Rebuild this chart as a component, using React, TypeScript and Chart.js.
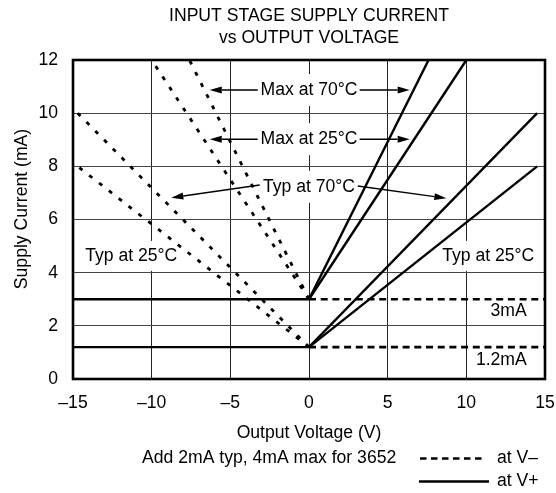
import React, { useEffect, useRef } from 'react';
import { Chart, registerables } from 'chart.js';

Chart.register(...registerables);

const FONT = '"Liberation Sans", Arial, Helvetica, sans-serif';
const FS = 17.6;

// Axes
const xTickValues = [-15, -10, -5, 0, 5, 10, 15];
const xTickLabels = ['–15', '–10', '–5', '0', '5', '10', '15'];
const yTickValues = [0, 2, 4, 6, 8, 10, 12];

// Supply current measured at V+ (solid lines)
const vPlusMax70X = [-15, 0, 7.6];
const vPlusMax70Y = [3, 3, 12];
const vPlusMax25X = [0, 10];
const vPlusMax25Y = [3, 12];
const vPlusTyp70X = [-15, 0, 14.5];
const vPlusTyp70Y = [1.2, 1.2, 10];
const vPlusTyp25X = [0, 14.5];
const vPlusTyp25Y = [1.2, 8];

// Supply current measured at V− (dashed lines)
const vMinusQuiescentMaxX = [0, 15];
const vMinusQuiescentMaxY = [3, 3];
const vMinusQuiescentTypX = [0, 15];
const vMinusQuiescentTypY = [1.2, 1.2];
const vMinusMax70X = [0, -7.6];
const vMinusMax70Y = [3, 12];
const vMinusMax25X = [0, -10];
const vMinusMax25Y = [3, 12];
const vMinusTyp70X = [0, -14.7];
const vMinusTyp70Y = [1.2, 10];
const vMinusTyp25X = [0, -14.7];
const vMinusTyp25Y = [1.2, 8];

// Annotation labels (data coordinates)
const centerLabels = ['Max at 70°C', 'Max at 25°C', 'Typ at 70°C'];
const centerLabelX = [0, 0, 0];
const centerLabelY = [10.87, 9.02, 7.23];
const sideLabels = ['Typ at 25°C', 'Typ at 25°C'];
const sideLabelX = [-11.3, 11.39];
const sideLabelY = [4.63, 4.63];
const levelLabels = ['3mA', '1.2mA'];
const levelLabelX = [13.84, 13.84];
const levelLabelY = [2.56, 0.71];

// Arrows: from -> to (data coordinates)
const arrowFromX = [-3.26, 3.22, -3.26, 3.22, -3.13, 3.1];
const arrowFromY = [10.87, 10.87, 9.02, 9.02, 7.3, 7.26];
const arrowToX = [-6.31, 6.4, -6.31, 6.4, -8.75, 8.73];
const arrowToY = [10.87, 10.87, 9.02, 9.02, 6.82, 6.8];

const pts = (xs: number[], ys: number[]) => xs.map((x, i) => ({ x, y: ys[i] }));

const solid = (label: string, xs: number[], ys: number[]) => ({
  label,
  data: pts(xs, ys),
  showLine: true,
  borderColor: '#000',
  borderWidth: 2.4,
  pointRadius: 0,
  fill: false,
  tension: 0,
});

const dashedDiag = (label: string, xs: number[], ys: number[]) => ({
  ...solid(label, xs, ys),
  borderWidth: 2.8,
  borderDash: [4, 8.5],
});

const dashedFlat = (label: string, xs: number[], ys: number[]) => ({
  ...solid(label, xs, ys),
  borderWidth: 2.6,
  borderDash: [7, 4.7],
});

function arrow(ctx: CanvasRenderingContext2D, x1: number, y1: number, x2: number, y2: number) {
  const ang = Math.atan2(y2 - y1, x2 - x1);
  const len = 12;
  const hw = 3.5;
  const bx = x2 - len * Math.cos(ang);
  const by = y2 - len * Math.sin(ang);
  ctx.beginPath();
  ctx.moveTo(x1, y1);
  ctx.lineTo(bx, by);
  ctx.lineWidth = 1.4;
  ctx.strokeStyle = '#000';
  ctx.stroke();
  ctx.beginPath();
  ctx.moveTo(x2, y2);
  ctx.lineTo(bx - hw * Math.sin(ang), by + hw * Math.cos(ang));
  ctx.lineTo(bx + hw * Math.sin(ang), by - hw * Math.cos(ang));
  ctx.closePath();
  ctx.fillStyle = '#000';
  ctx.fill();
}

const annotations = {
  id: 'annotations',
  beforeDatasetsDraw(chart: any) {
    const ctx = chart.ctx as CanvasRenderingContext2D;
    const xs = chart.scales.x;
    const ys = chart.scales.y;
    ctx.save();
    ctx.font = `${FS}px ${FONT}`;
    ctx.fillStyle = '#fff';
    centerLabels.forEach((t, i) => {
      const w = ctx.measureText(t).width;
      const cx = xs.getPixelForValue(centerLabelX[i]);
      const cy = ys.getPixelForValue(centerLabelY[i]);
      ctx.fillRect(cx - w / 2 - 3, cy - 16, w + 6, 32);
    });
    sideLabels.forEach((t, i) => {
      const w = ctx.measureText(t).width;
      const cx = xs.getPixelForValue(sideLabelX[i]);
      const cy = ys.getPixelForValue(sideLabelY[i]);
      ctx.fillRect(cx - w / 2 - 3, cy - 15, w + 6, 30);
    });
    ctx.restore();
  },
  afterDatasetsDraw(chart: any) {
    const ctx = chart.ctx as CanvasRenderingContext2D;
    const xs = chart.scales.x;
    const ys = chart.scales.y;
    const a = chart.chartArea;
    ctx.save();
    ctx.strokeStyle = '#000';
    ctx.lineWidth = 2.6;
    ctx.strokeRect(a.left, a.top, a.right - a.left, a.bottom - a.top);

    ctx.font = `${FS}px ${FONT}`;
    ctx.fillStyle = '#000';
    ctx.textBaseline = 'middle';
    ctx.textAlign = 'center';
    centerLabels.forEach((t, i) => {
      ctx.fillText(t, xs.getPixelForValue(centerLabelX[i]), ys.getPixelForValue(centerLabelY[i]));
    });
    sideLabels.forEach((t, i) => {
      ctx.fillText(t, xs.getPixelForValue(sideLabelX[i]), ys.getPixelForValue(sideLabelY[i]));
    });
    ctx.textAlign = 'right';
    levelLabels.forEach((t, i) => {
      ctx.fillText(t, xs.getPixelForValue(levelLabelX[i]), ys.getPixelForValue(levelLabelY[i]));
    });
    arrowFromX.forEach((_, i) => {
      arrow(
        ctx,
        xs.getPixelForValue(arrowFromX[i]),
        ys.getPixelForValue(arrowFromY[i]),
        xs.getPixelForValue(arrowToX[i]),
        ys.getPixelForValue(arrowToY[i])
      );
    });
    ctx.restore();
  },
  afterDraw(chart: any) {
    const ctx = chart.ctx as CanvasRenderingContext2D;
    const a = chart.chartArea;
    const cx = (a.left + a.right) / 2;
    ctx.save();
    ctx.fillStyle = '#000';
    ctx.font = `${FS}px ${FONT}`;
    ctx.textBaseline = 'middle';
    ctx.textAlign = 'center';
    ctx.fillText('INPUT STAGE SUPPLY CURRENT', cx, 16);
    ctx.fillText('vs OUTPUT VOLTAGE', cx, 38.5);
    ctx.fillText('Output Voltage (V)', cx, 433);
    ctx.save();
    ctx.translate(22, 209);
    ctx.rotate(-Math.PI / 2);
    ctx.fillText('Supply Current (mA)', 0, 0);
    ctx.restore();
    ctx.textAlign = 'left';
    ctx.fillText('Add 2mA typ, 4mA max for 3652', 142, 458.5);
    ctx.fillText('at V–', 497, 458.5);
    ctx.fillText('at V+', 497, 481.5);
    ctx.strokeStyle = '#000';
    ctx.lineWidth = 2.6;
    ctx.setLineDash([6.5, 4.5]);
    ctx.beginPath();
    ctx.moveTo(420, 458.5);
    ctx.lineTo(482, 458.5);
    ctx.stroke();
    ctx.setLineDash([]);
    ctx.beginPath();
    ctx.moveTo(419, 481.5);
    ctx.lineTo(489, 481.5);
    ctx.stroke();
    ctx.restore();
  },
};

export default function App() {
  const ref = useRef<HTMLCanvasElement>(null);
  useEffect(() => {
    if (!ref.current) return;
    const chart = new Chart(ref.current, {
      type: 'scatter',
      data: {
        datasets: [
          solid('V+ Max 70°C', vPlusMax70X, vPlusMax70Y),
          solid('V+ Max 25°C', vPlusMax25X, vPlusMax25Y),
          solid('V+ Typ 70°C', vPlusTyp70X, vPlusTyp70Y),
          solid('V+ Typ 25°C', vPlusTyp25X, vPlusTyp25Y),
          dashedFlat('V− Max quiescent', vMinusQuiescentMaxX, vMinusQuiescentMaxY),
          dashedFlat('V− Typ quiescent', vMinusQuiescentTypX, vMinusQuiescentTypY),
          dashedDiag('V− Max 70°C', vMinusMax70X, vMinusMax70Y),
          dashedDiag('V− Max 25°C', vMinusMax25X, vMinusMax25Y),
          dashedDiag('V− Typ 70°C', vMinusTyp70X, vMinusTyp70Y),
          dashedDiag('V− Typ 25°C', vMinusTyp25X, vMinusTyp25Y),
        ] as any,
      },
      options: {
        animation: false,
        responsive: false,
        devicePixelRatio: 1,
        layout: { padding: { left: 0, top: 60, right: 11, bottom: 74 } },
        plugins: { legend: { display: false }, tooltip: { enabled: false }, title: { display: false } },
        scales: {
          x: {
            type: 'linear',
            min: -15,
            max: 15,
            afterBuildTicks: (s: any) => {
              s.ticks = xTickValues.map((v) => ({ value: v }));
            },
            afterFit: (s: any) => {
              s.height = 40;
              s.paddingLeft = 0;
              s.paddingRight = 0;
            },
            ticks: {
              padding: 14,
              color: '#000',
              font: { family: FONT, size: FS },
              maxRotation: 0,
              callback: (v: any) => {
                const i = xTickValues.indexOf(Number(v));
                return i >= 0 ? xTickLabels[i] : '';
              },
            },
            grid: { color: '#222', lineWidth: 1, drawTicks: false },
            border: { display: false },
          },
          y: {
            type: 'linear',
            min: 0,
            max: 12,
            afterBuildTicks: (s: any) => {
              s.ticks = yTickValues.map((v) => ({ value: v }));
            },
            afterFit: (s: any) => {
              s.width = 73;
              s.paddingTop = 0;
              s.paddingBottom = 0;
            },
            ticks: {
              padding: 15,
              color: '#000',
              font: { family: FONT, size: FS },
            },
            grid: { color: '#444', lineWidth: 1, drawTicks: false },
            border: { display: false },
          },
        },
      },
      plugins: [annotations],
    } as any);
    return () => chart.destroy();
  }, []);
  return (
    <div style={{ position: 'absolute', left: 0, top: 0, width: 556, height: 493, background: '#fff' }}>
      <canvas ref={ref} width={556} height={493} style={{ display: 'block', width: 556, height: 493 }} />
    </div>
  );
}
